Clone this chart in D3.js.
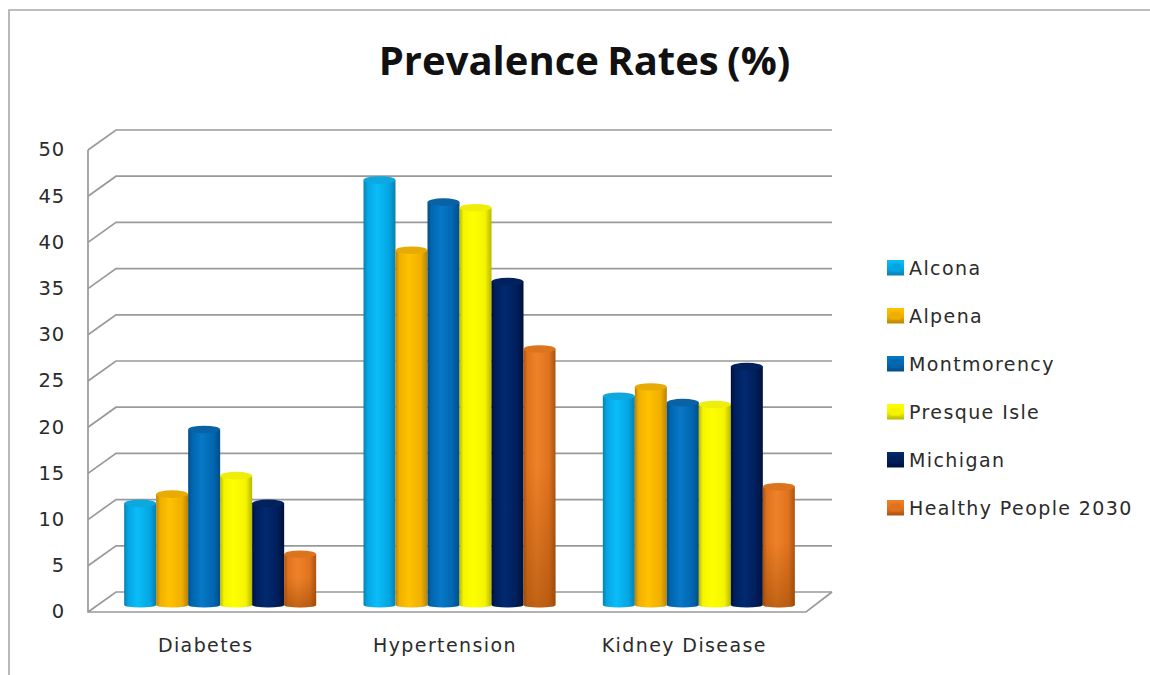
<!DOCTYPE html>
<html>
<head>
<meta charset="utf-8">
<script src="https://cdn.jsdelivr.net/npm/d3@7/dist/d3.min.js"></script>
<style>
  html, body { margin: 0; padding: 0; background: #fff; }
  svg { display: block; }
  text { font-family: "DejaVu Sans", Verdana, sans-serif; fill: #2b2b2b; }
</style>
</head>
<body>
<svg id="chart" width="1150" height="675"></svg>
<script>
// Chart content
const chartTitle = "Prevalence Rates (%)";
const categories = ["Diabetes", "Hypertension", "Kidney Disease"];
const seriesNames = ["Alcona", "Alpena", "Montmorency", "Presque Isle", "Michigan", "Healthy People 2030"];
const alcona = [11, 46, 22.6];
const alpena = [12, 38.4, 23.6];
const montmorency = [19, 43.6, 21.9];
const presqueIsle = [14, 43, 21.7];
const michigan = [11, 35, 25.8];
const healthyPeople = [5.5, 27.7, 12.8];
const seriesValues = [alcona, alpena, montmorency, presqueIsle, michigan, healthyPeople];
const yTicks = [0, 5, 10, 15, 20, 25, 30, 35, 40, 45, 50];

// Cylinder shading per series
const shades = [
  { edge: "#0a7fae", body: "#04a6e2", hi: "#0abdf8", cap: "#0ea8de" },
  { edge: "#b98400", body: "#f0af00", hi: "#ffc200", cap: "#e8aa04" },
  { edge: "#044c84", body: "#0066b0", hi: "#0878c6", cap: "#0a62a6" },
  { edge: "#b8b800", body: "#f4f400", hi: "#ffff00", cap: "#eeee0a" },
  { edge: "#00103a", body: "#001e5a", hi: "#022a70", cap: "#02225e" },
  { edge: "#a95410", body: "#e0721e", hi: "#ee8228", cap: "#dc741e" }
];

const gridColor = "#999999";
const svg = d3.select("#chart");

// Outer frame: only the top and left edges fall inside the window
svg.append("path")
  .attr("d", d3.line()([[9, 675], [9, 10], [1150, 10]]))
  .attr("fill", "none").attr("stroke", "#a8a8a8").attr("stroke-width", 1.6);

// Front plane of the pseudo-3D box, and the depth shift toward the back wall
const front = { left: 88, right: 806, top: 150, bottom: 612 };
const depth = { dx: 28, dy: -20 };
const barPlaneDy = -7;

const y = d3.scaleLinear().domain([0, 50]).range([front.bottom, front.top]);
const x = d3.scaleBand().domain(categories).range([front.left, front.right]);
const barGroup = d3.scaleBand().domain(d3.range(seriesNames.length))
  .range([0, 192]);
const barInset = (x.bandwidth() - 192) / 2 + 12.5;

// Bars stand on a plane part-way into the box
const yBar = v => y(v) + barPlaneDy;

// Back wall gridlines with their diagonals running to the front edge
const grid = svg.append("g").attr("fill", "none")
  .attr("stroke", gridColor).attr("stroke-width", 1.7);
grid.selectAll("path.tick-line").data(yTicks).join("path")
  .attr("class", "tick-line")
  .attr("d", t => d3.line()([
    [front.left, y(t)],
    [front.left + depth.dx, y(t) + depth.dy],
    [front.right + depth.dx - 2, y(t) + depth.dy]
  ]));
// Front vertical axis and floor outline
grid.append("path").attr("d", d3.line()([
  [front.left, y(50)], [front.left, y(0)], [front.right, y(0)],
  [front.right + depth.dx - 2, y(0) + depth.dy]
]));

const labelStyle = sel => sel
  .style("font-size", "19px")
  .style("letter-spacing", "1.4px");

// Value labels
const axis = svg.append("g").attr("transform", `translate(${front.left - 18},0)`)
  .call(d3.axisLeft(y).tickValues(yTicks).tickSize(0).tickPadding(5));
axis.select(".domain").remove();
axis.selectAll("text")
  .style("font-family", '"DejaVu Sans", sans-serif')
  .style("font-size", "19.5px").style("letter-spacing", "0.8px")
  .attr("fill", "#2b2b2b").attr("dy", "0.3em");

// Gradients
const defs = svg.append("defs");
shades.forEach((s, i) => {
  const g = defs.append("linearGradient").attr("id", `cyl${i}`);
  [[0, s.edge], [0.12, s.body], [0.42, s.hi], [0.8, s.body], [1, s.edge]].forEach(([o, c]) =>
    g.append("stop").attr("offset", o).attr("stop-color", c));
  const f = defs.append("linearGradient").attr("id", `sw${i}`).attr("x2", 0).attr("y2", 1);
  [[0, s.hi], [0.55, s.body], [1, s.edge]].forEach(([o, c]) =>
    f.append("stop").attr("offset", o).attr("stop-color", c));
});
// The Healthy People bars darken toward their foot
const fade = defs.append("linearGradient").attr("id", "footFade").attr("x2", 0).attr("y2", 1);
fade.append("stop").attr("offset", 0.45).attr("stop-color", "#8a3f00").attr("stop-opacity", 0);
fade.append("stop").attr("offset", 1).attr("stop-color", "#8a3f00").attr("stop-opacity", 0.45);

// Cylinders, series by series inside each category
const capRy = 3.8, footRy = 2.5;
const rows = [];
categories.forEach((cat, c) => seriesValues.forEach((vals, s) => rows.push({ cat, s, v: vals[c] })));

const bars = svg.append("g").selectAll("g").data(rows).join("g")
  .attr("transform", d => `translate(${x(d.cat) + barInset + barGroup(d.s)},0)`);
const w = barGroup.bandwidth();

const body = d => {
  const t = yBar(d.v), b = yBar(0);
  return `M0,${t}V${b}A${w / 2},${footRy} 0 0 0 ${w},${b}V${t}Z`;
};
bars.append("path").attr("d", body).attr("fill", d => `url(#cyl${d.s})`);
bars.filter(d => d.s === 5).append("path").attr("d", body).attr("fill", "url(#footFade)");
bars.append("ellipse")
  .attr("cx", w / 2).attr("cy", d => yBar(d.v))
  .attr("rx", w / 2).attr("ry", capRy)
  .attr("fill", d => shades[d.s].cap);

// Category labels
svg.append("g").selectAll("text").data(categories).join("text")
  .attr("x", d => x(d) + x.bandwidth() / 2 - 2)
  .attr("y", 652)
  .attr("text-anchor", "middle")
  .call(labelStyle)
  .text(d => d);

// Legend
const legendY = d3.scalePoint().domain(seriesNames).range([268, 508]);
const legend = svg.append("g").selectAll("g").data(seriesNames).join("g")
  .attr("transform", d => `translate(887,${legendY(d)})`);
legend.append("rect").attr("x", 0).attr("y", -8).attr("width", 17).attr("height", 15.5)
  .attr("fill", (d, i) => `url(#sw${i})`);
legend.append("rect").attr("x", 3.5).attr("y", -4.5).attr("width", 10).attr("height", 8)
  .attr("fill", (d, i) => shades[i].body);
legend.append("text").attr("x", 22).attr("y", 6.5)
  .call(labelStyle)
  .text(d => d);

// Title
svg.append("text")
  .attr("x", 584.5).attr("y", 75)
  .attr("text-anchor", "middle")
  .style("font-family", '"Open Sans", sans-serif')
  .style("font-weight", 700).style("font-size", "40px")
  .style("word-spacing", "-2px")
  .style("fill", "#111")
  .text(chartTitle);
</script>
</body>
</html>
